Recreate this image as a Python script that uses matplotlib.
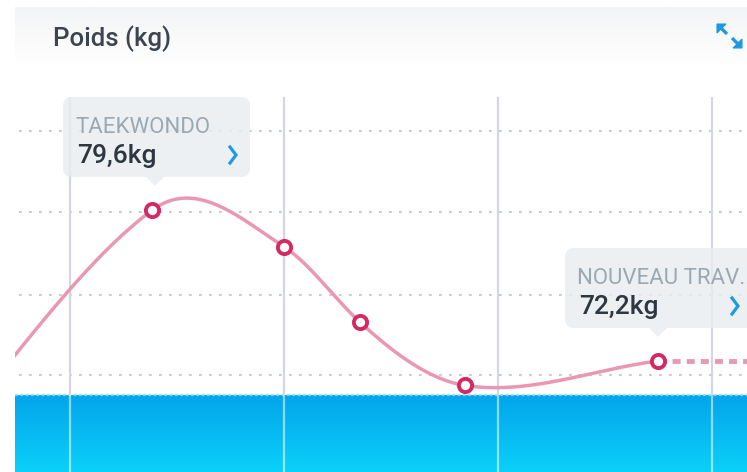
import numpy as np
import matplotlib
matplotlib.use("Agg")
import matplotlib.pyplot as plt
from matplotlib.colors import LinearSegmentedColormap
from matplotlib.patches import FancyBboxPatch, Polygon
from matplotlib.transforms import Affine2D

# weigh-ins, x in weeks from the first grid line, weight in kg
week = [-0.70, 0.385, 1.0, 1.355, 1.846, 2.748]
poids = [66.85, 79.6, 77.8, 74.1, 71.0, 72.2]
grid_weeks = [0, 1, 2, 3]
grid_levels = [83.47, 79.5, 75.43, 71.51]
objectif = 70.53  # top of the blue zone

labels = ["TAEKWONDO", "NOUVEAU TRAV..."]
label_values = ["79,6kg", "72,2kg"]

W, H = 747, 472
PINK = "#ea97b2"
DOT = "#d32a62"
BLUE = "#1e9be0"


def cardinal(x, y, xs, k=1.2):
    # cubic hermite, tangents from neighbours (a bit tighter than catmull-rom)
    x = np.asarray(x, float)
    y = np.asarray(y, float)
    m = np.empty(len(x))
    m[1:-1] = k * (y[2:] - y[:-2]) / (x[2:] - x[:-2])
    m[0] = (y[1] - y[0]) / (x[1] - x[0])
    m[-1] = (y[-1] - y[-2]) / (x[-1] - x[-2])
    i = np.clip(np.searchsorted(x, xs) - 1, 0, len(x) - 2)
    h = x[i + 1] - x[i]
    t = (xs - x[i]) / h
    h00 = 2 * t ** 3 - 3 * t ** 2 + 1
    h10 = t ** 3 - 2 * t ** 2 + t
    h01 = -2 * t ** 3 + 3 * t ** 2
    h11 = t ** 3 - t ** 2
    return h00 * y[i] + h10 * h * m[i] + h01 * y[i + 1] + h11 * h * m[i + 1]


fig = plt.figure(figsize=(W / 100, H / 100), dpi=100)
fig.patch.set_facecolor("white")

# pixel transform (origin top-left) for the card decorations
px = Affine2D().scale(1 / 100, -1 / 100).translate(0, H / 100) + fig.dpi_scale_trans

# header band
bg = fig.add_axes([0, 0, 1, 1])
bg.set_xlim(0, W)
bg.set_ylim(H, 0)
bg.axis("off")
head = LinearSegmentedColormap.from_list("head", ["#f3f4f5", "#ffffff"])
bg.imshow(np.linspace(0, 1, 50).reshape(-1, 1), cmap=head, aspect="auto",
          extent=[15, W, 66, 7], zorder=0)
bg.text(53, 39, "Poids (kg)", fontsize=18.5, family="Roboto", weight="medium",
        color="#3c4450", va="center", ha="left")
# expand icon
bg.add_patch(Polygon([(717, 24), (726, 24), (717, 33)], closed=True, fc=BLUE, ec=BLUE, lw=0.8))
bg.plot([719, 727], [26, 34], color=BLUE, lw=2.4, solid_capstyle="butt")
bg.add_patch(Polygon([(742, 48), (733, 48), (742, 39)], closed=True, fc=BLUE, ec=BLUE, lw=0.8))
bg.plot([740, 732], [46, 38], color=BLUE, lw=2.4, solid_capstyle="butt")

# chart
ax = fig.add_axes([15 / W, 0, 1 - 15 / W, (H - 65) / H])
x0, x1 = (15 - 70) / 214, (W - 70) / 214
y0, y1 = 79.6 - (H - 210) / 20.4, 79.6 + (210 - 65) / 20.4
ax.set_xlim(x0, x1)
ax.set_ylim(y0, y1)
ax.axis("off")

sea = LinearSegmentedColormap.from_list("sea", ["#0bd0f9", "#03a5eb"])
ax.imshow(np.linspace(0, 1, 50).reshape(-1, 1), cmap=sea, origin="lower",
          aspect="auto", extent=[x0, x1, y0, objectif], zorder=1)
ax.axhline(objectif, color="#8fd8f6", lw=1.6, ls=(0, (1.2, 1.2)), zorder=2)

for lv in grid_levels:
    ax.axhline(lv, xmin=0.006, color="#c8ccd1", lw=1.5, ls=(0, (1.3, 3.5)), zorder=4)

top_grid = 79.6 - (97 - 210) / 20.4
ax.vlines(grid_weeks, objectif, top_grid, color="#d3d7df", lw=1.6, zorder=4)
ax.vlines(grid_weeks, y0, objectif, color="white", alpha=0.55, lw=1.6, zorder=2)

xs = np.linspace(week[0], week[-1], 800)
ax.plot(xs, cardinal(week, poids, xs), color=PINK, lw=2.5, zorder=5,
        solid_capstyle="round")
ax.plot([week[-1], x1], [poids[-1], poids[-1]], color=PINK, lw=3.5,
        ls=(0, (1.65, 1.25)), zorder=5)
ax.plot(week, poids, "o", ms=9.5, mfc="white", mec=DOT, mew=2.8, zorder=6)

# tooltips
boxes = [(63, 97, 187, 80, 155), (565, 248, 200, 80, 658)]
for (bx, by, bw, bh, tip), lab, val in zip(boxes, labels, label_values):
    ax.add_patch(FancyBboxPatch((bx, by), bw, bh, boxstyle="round,pad=0,rounding_size=9",
                                transform=px, fc="#e9edf1", ec="none", alpha=0.82, zorder=4.5))
    ax.add_patch(Polygon([(tip - 9, by + bh), (tip + 9, by + bh), (tip, by + bh + 9)],
                         closed=True, transform=px, fc="#e9edf1", ec="none", alpha=0.82, zorder=4.5))
    ax.text(bx + 12, by + 36, lab, transform=px, fontsize=16, family="Roboto",
            color="#9ca8b1", va="baseline", zorder=7)
    ax.text(bx + 14, by + 66, val, transform=px, fontsize=19, family="Roboto",
            weight="medium", color="#2e3640", va="baseline", zorder=7)
    cx = bx + 170
    ax.plot([cx - 3, cx + 3, cx - 3], [by + 50, by + 58, by + 66], transform=px,
            color=BLUE, lw=2.3, solid_joinstyle="miter", zorder=7)

fig.savefig("out.png", dpi=100, facecolor="white")
